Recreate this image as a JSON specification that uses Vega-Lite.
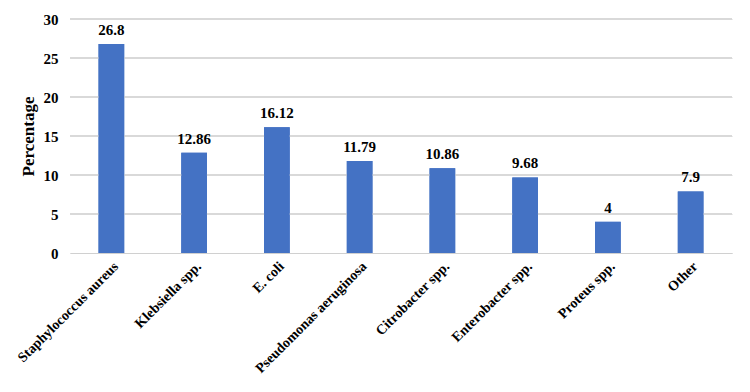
{
  "$schema": "https://vega.github.io/schema/vega-lite/v6.json",
  "autosize": "none",
  "width": 662,
  "height": 234,
  "padding": {"left": 70, "top": 19, "right": 18, "bottom": 139},
  "background": "white",
  "data": {"values": [
    {"organism": "Staphylococcus aureus", "pct": 26.8, "label": "26.8"},
    {"organism": "Klebsiella spp.", "pct": 12.86, "label": "12.86"},
    {"organism": "E. coli", "pct": 16.12, "label": "16.12"},
    {"organism": "Pseudomonas aeruginosa", "pct": 11.79, "label": "11.79"},
    {"organism": "Citrobacter spp.", "pct": 10.86, "label": "10.86"},
    {"organism": "Enterobacter spp.", "pct": 9.68, "label": "9.68"},
    {"organism": "Proteus spp.", "pct": 4, "label": "4"},
    {"organism": "Other", "pct": 7.9, "label": "7.9"}
  ]},
  "layer": [
    {"mark": {"type": "bar", "color": "#4472C4"},
     "encoding": {
      "x": {"field": "organism", "type": "nominal", "sort": null,
        "scale": {"paddingInner": 0.69, "paddingOuter": 0.345},
        "axis": {"title": null, "labelAngle": -45, "labelFont": "Liberation Serif", "labelFontSize": 14, "labelFontWeight": "bold", "labelColor": "black", "ticks": false, "domainColor": "#d0d0d0", "labelPadding": 6, "grid": false, "zindex": 1}},
      "y": {"field": "pct", "type": "quantitative",
        "scale": {"domain": [0, 30]},
        "axis": {"title": "Percentage", "titleFont": "Liberation Serif", "titleFontSize": 17, "titleFontWeight": "bold", "titleColor": "black", "titlePadding": 6, "tickCount": 6, "labelFont": "Liberation Serif", "labelFontSize": 15, "labelFontWeight": "bold", "labelColor": "black", "ticks": false, "domain": false, "labelPadding": 12, "grid": true, "gridColor": "#d9d9d9", "zindex": 0}}
     }},
    {"mark": {"type": "rule", "color": "#d9d9d9", "strokeWidth": 1}, "encoding": {"y": {"datum": 5}}},
    {"mark": {"type": "rule", "color": "#d9d9d9", "strokeWidth": 1}, "encoding": {"y": {"datum": 10}}},
    {"mark": {"type": "rule", "color": "#d9d9d9", "strokeWidth": 1}, "encoding": {"y": {"datum": 15}}},
    {"mark": {"type": "rule", "color": "#d9d9d9", "strokeWidth": 1}, "encoding": {"y": {"datum": 20}}},
    {"mark": {"type": "rule", "color": "#d9d9d9", "strokeWidth": 1}, "encoding": {"y": {"datum": 25}}},
    {"mark": {"type": "rule", "color": "#d9d9d9", "strokeWidth": 1}, "encoding": {"y": {"datum": 30}}},
    {"mark": {"type": "bar", "color": "#4472C4"},
     "encoding": {
      "x": {"field": "organism", "type": "nominal", "sort": null},
      "y": {"field": "pct", "type": "quantitative"}}},
    {"mark": {"type": "text", "dy": -14, "font": "Liberation Serif", "fontSize": 15, "fontWeight": "bold", "color": "black"},
     "encoding": {
      "x": {"field": "organism", "type": "nominal", "sort": null},
      "y": {"field": "pct", "type": "quantitative"},
      "text": {"field": "label"}}}
  ],
  "config": {"view": {"stroke": null}}
}
